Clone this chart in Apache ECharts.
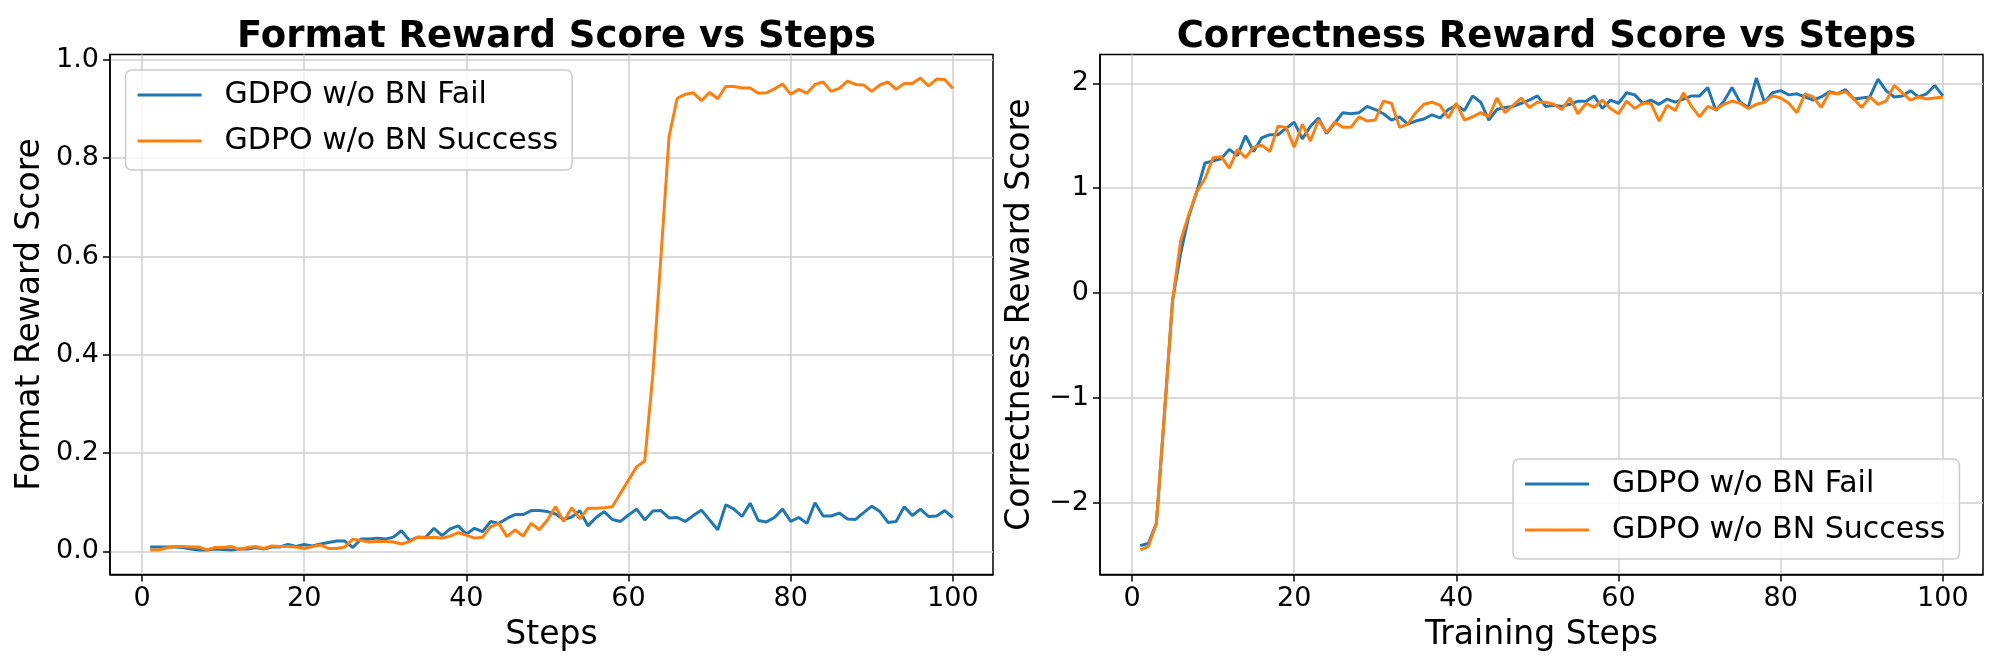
<!DOCTYPE html>
<html>
<head>
<meta charset="utf-8">
<script src="https://cdn.jsdelivr.net/npm/echarts@6/dist/echarts.min.js"></script>
<style>
  html, body { margin: 0; padding: 0; background: #fff; }
  #chart { width: 2000px; height: 667px; }
</style>
</head>
<body>
<div id="chart"></div>
<script>
// training steps (x)
var steps = [
  1, 2, 3, 4, 5, 6, 7, 8, 9, 10, 11, 12, 13, 14, 15, 16, 17, 18, 19, 20,
  21, 22, 23, 24, 25, 26, 27, 28, 29, 30, 31, 32, 33, 34, 35, 36, 37, 38, 39, 40,
  41, 42, 43, 44, 45, 46, 47, 48, 49, 50, 51, 52, 53, 54, 55, 56, 57, 58, 59, 60,
  61, 62, 63, 64, 65, 66, 67, 68, 69, 70, 71, 72, 73, 74, 75, 76, 77, 78, 79, 80,
  81, 82, 83, 84, 85, 86, 87, 88, 89, 90, 91, 92, 93, 94, 95, 96, 97, 98, 99, 100
];

// format reward - fail / success
var formatFail = [
  0.009, 0.009, 0.009, 0.009, 0.008, 0.005, 0.003, 0.003, 0.005, 0.004,
  0.003, 0.005, 0.005, 0.008, 0.005, 0.009, 0.009, 0.014, 0.010, 0.014,
  0.011, 0.015, 0.018, 0.021, 0.021, 0.008, 0.025, 0.025, 0.027, 0.025,
  0.029, 0.042, 0.022, 0.029, 0.029, 0.047, 0.032, 0.046, 0.052, 0.035,
  0.047, 0.040, 0.061, 0.057, 0.067, 0.075, 0.075, 0.083, 0.083, 0.081,
  0.076, 0.065, 0.070, 0.083, 0.052, 0.069, 0.081, 0.065, 0.061, 0.074,
  0.086, 0.064, 0.082, 0.083, 0.068, 0.069, 0.061, 0.073, 0.084, 0.064,
  0.044, 0.095, 0.086, 0.071, 0.098, 0.063, 0.060, 0.069, 0.086, 0.061,
  0.069, 0.057, 0.099, 0.072, 0.072, 0.078, 0.066, 0.065, 0.079, 0.092,
  0.081, 0.059, 0.061, 0.091, 0.073, 0.086, 0.071, 0.072, 0.083, 0.069
];
var formatSuccess = [
  0.003, 0.003, 0.007, 0.010, 0.010, 0.009, 0.009, 0.003, 0.008, 0.008,
  0.010, 0.004, 0.008, 0.010, 0.006, 0.011, 0.010, 0.010, 0.009, 0.006,
  0.010, 0.013, 0.006, 0.006, 0.009, 0.025, 0.022, 0.019, 0.020, 0.020,
  0.019, 0.015, 0.020, 0.029, 0.028, 0.029, 0.027, 0.031, 0.038, 0.033,
  0.027, 0.029, 0.050, 0.057, 0.030, 0.044, 0.031, 0.057, 0.044, 0.064,
  0.091, 0.061, 0.089, 0.066, 0.088, 0.088, 0.089, 0.091, 0.118, 0.145,
  0.172, 0.184, 0.360, 0.600, 0.844, 0.922, 0.930, 0.933, 0.917, 0.934,
  0.921, 0.946, 0.946, 0.943, 0.943, 0.932, 0.933, 0.941, 0.951, 0.930,
  0.940, 0.932, 0.950, 0.955, 0.936, 0.942, 0.957, 0.950, 0.949, 0.936,
  0.949, 0.955, 0.940, 0.952, 0.952, 0.963, 0.947, 0.961, 0.960, 0.942
];

// correctness reward - fail / success
var correctFail = [
  -2.41, -2.39, -2.20, -1.15, -0.07, 0.38, 0.73, 0.97, 1.24, 1.26,
  1.28, 1.37, 1.31, 1.50, 1.35, 1.48, 1.51, 1.51, 1.57, 1.63,
  1.47, 1.59, 1.67, 1.52, 1.62, 1.72, 1.71, 1.72, 1.78, 1.75,
  1.71, 1.65, 1.68, 1.61, 1.64, 1.66, 1.70, 1.67, 1.75, 1.79,
  1.74, 1.88, 1.82, 1.65, 1.75, 1.77, 1.78, 1.81, 1.84, 1.88,
  1.78, 1.79, 1.78, 1.80, 1.83, 1.83, 1.88, 1.76, 1.84, 1.81,
  1.91, 1.89, 1.81, 1.84, 1.80, 1.85, 1.82, 1.85, 1.88, 1.88,
  1.96, 1.74, 1.83, 1.96, 1.82, 1.77, 2.05, 1.82, 1.91, 1.93,
  1.89, 1.90, 1.87, 1.84, 1.87, 1.92, 1.90, 1.94, 1.85, 1.86,
  1.87, 2.04, 1.93, 1.87, 1.88, 1.93, 1.87, 1.90, 1.98, 1.88
];
var correctSuccess = [
  -2.45, -2.42, -2.20, -1.15, -0.07, 0.50, 0.75, 0.97, 1.09, 1.29,
  1.30, 1.19, 1.37, 1.29, 1.39, 1.41, 1.35, 1.59, 1.58, 1.39,
  1.61, 1.45, 1.65, 1.53, 1.63, 1.58, 1.58, 1.68, 1.64, 1.65,
  1.83, 1.81, 1.58, 1.61, 1.72, 1.80, 1.82, 1.79, 1.67, 1.81,
  1.65, 1.68, 1.72, 1.68, 1.86, 1.72, 1.79, 1.86, 1.77, 1.82,
  1.82, 1.80, 1.75, 1.86, 1.71, 1.81, 1.77, 1.84, 1.76, 1.71,
  1.83, 1.76, 1.81, 1.81, 1.64, 1.79, 1.74, 1.91, 1.78, 1.68,
  1.78, 1.75, 1.80, 1.83, 1.81, 1.76, 1.80, 1.82, 1.88, 1.86,
  1.81, 1.72, 1.90, 1.87, 1.77, 1.91, 1.90, 1.92, 1.85, 1.77,
  1.87, 1.80, 1.83, 1.98, 1.91, 1.84, 1.87, 1.85, 1.86, 1.87
];

var xTicks = [0, 20, 40, 60, 80, 100];
var formatTicks = [0, 0.2, 0.4, 0.6, 0.8, 1.0];
var correctTicks = [-2, -1, 0, 1, 2];
var names = ['GDPO w/o BN Fail', 'GDPO w/o BN Success'];
var colors = ['#1f77b4', '#ff7f0e'];

var FONT = 'DejaVu Sans';

function pairs(ys) {
  return steps.map(function (s, i) { return [s, ys[i]]; });
}

function xAxisOf(idx, name) {
  return {
    type: 'value', gridIndex: idx, min: -3.95, max: 104.95,
    name: name, nameLocation: 'middle', nameGap: 44,
    nameTextStyle: { fontFamily: FONT, fontSize: 33, color: '#000' },
    axisLine: { show: true, onZero: false, lineStyle: { color: '#000', width: 1.5 } },
    axisTick: { show: true, length: 7, customValues: xTicks, lineStyle: { color: '#000', width: 1.5 } },
    axisLabel: { customValues: xTicks, margin: 11, fontFamily: FONT, fontSize: 27, color: '#000' },
    splitLine: { show: true, lineStyle: { color: '#cfcfcf', width: 1.5 } }
  };
}

function yAxisOf(idx, name, min, max, ticks, fmt) {
  return {
    type: 'value', gridIndex: idx, min: min, max: max,
    name: name, nameLocation: 'middle', nameGap: 63,
    nameTextStyle: { fontFamily: FONT, fontSize: 33, color: '#000' },
    axisLine: { show: true, onZero: false, lineStyle: { color: '#000', width: 1.5 } },
    axisTick: { show: true, length: 7, customValues: ticks, lineStyle: { color: '#000', width: 1.5 } },
    axisLabel: { customValues: ticks, margin: 11, fontFamily: FONT, fontSize: 27, color: '#000', formatter: fmt },
    splitLine: { show: true, lineStyle: { color: '#cfcfcf', width: 1.5 } }
  };
}

function legendOf(left, top) {
  return {
    data: names, orient: 'vertical', left: left, top: top,
    icon: 'rect', itemWidth: 64, itemHeight: 3, itemGap: 16,
    padding: [10, 14, 14, 12],
    backgroundColor: 'rgba(255,255,255,0.8)',
    borderColor: '#cccccc', borderWidth: 1.5, borderRadius: 6,
    textStyle: { fontFamily: FONT, fontSize: 30, lineHeight: 30, color: '#000', padding: [0, 0, 0, 18] }
  };
}

function lineOf(name, idx, ys, color) {
  return {
    name: name, type: 'line', xAxisIndex: idx, yAxisIndex: idx,
    data: pairs(ys), symbol: 'none', showSymbol: false,
    lineStyle: { color: color, width: 3 }, itemStyle: { color: color },
    animation: false, z: 3
  };
}

var chart = echarts.init(document.getElementById('chart'));
chart.setOption({
  backgroundColor: '#fff',
  animation: false,
  color: colors,
  title: [
    { text: 'Format Reward Score vs Steps', left: 551.5, top: 14, textAlign: 'center',
      textStyle: { fontFamily: FONT, fontWeight: 'bold', fontSize: 37, color: '#000' } },
    { text: 'Correctness Reward Score vs Steps', left: 1541.5, top: 14, textAlign: 'center',
      textStyle: { fontFamily: FONT, fontWeight: 'bold', fontSize: 37, color: '#000' } }
  ],
  grid: [
    { left: 110, top: 54.5, width: 883, height: 520, show: true, borderColor: '#000', borderWidth: 1.5, backgroundColor: 'transparent' },
    { left: 1100, top: 54.5, width: 883, height: 520, show: true, borderColor: '#000', borderWidth: 1.5, backgroundColor: 'transparent' }
  ],
  legend: [legendOf(125.6, 70), legendOf(1513, 459)],
  xAxis: [xAxisOf(0, 'Steps'), xAxisOf(1, 'Training Steps')],
  yAxis: [
    yAxisOf(0, 'Format Reward Score', -0.047, 1.011, formatTicks, function (v) { return v.toFixed(1); }),
    yAxisOf(1, 'Correctness Reward Score', -2.685, 2.275, correctTicks, function (v) {
      return v < 0 ? '\u2212' + (-v) : String(v);
    })
  ],
  series: [
    lineOf(names[0], 0, formatFail, colors[0]),
    lineOf(names[1], 0, formatSuccess, colors[1]),
    lineOf(names[0], 1, correctFail, colors[0]),
    lineOf(names[1], 1, correctSuccess, colors[1])
  ]
});
</script>
</body>
</html>
